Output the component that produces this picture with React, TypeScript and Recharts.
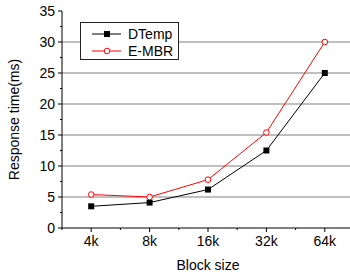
import { Legend, Line, LineChart, ReferenceLine, XAxis, YAxis } from 'recharts'

const categories = ['4k', '8k', '16k', '32k', '64k']
const dtemp = [3.5, 4.1, 6.2, 12.5, 25]
const embr = [5.4, 5.0, 7.8, 15.4, 30]
const xTicks = [-0.5, 0, 0.5, 1, 1.5, 2, 2.5, 3, 3.5, 4, 4.5]
const yTicks = [0, 2.5, 5, 7.5, 10, 12.5, 15, 17.5, 20, 22.5, 25, 27.5, 30, 32.5, 35]
const gridLines = [5, 10, 15, 20, 25, 30]

const data = categories.map((label, i) => ({ x: i, label, dtemp: dtemp[i], embr: embr[i] }))

const FONT = '"Liberation Sans", Arial, sans-serif'

function BottomTick(props: any) {
    const { x, y, payload } = props
    const v = payload.value as number
    const major = Number.isInteger(v)
    return (
        <g>
            <line x1={x} x2={x} y1={y} y2={y + (major ? 4 : 2)} stroke="#000" />
            {major && (
                <text x={x} y={y + 18} textAnchor="middle" fontSize={14} fill="#000">
                    {categories[v]}
                </text>
            )}
        </g>
    )
}

function TopTick(props: any) {
    const { x, y, payload } = props
    const major = Number.isInteger(payload.value)
    return <line x1={x} x2={x} y1={y} y2={y - (major ? 4 : 2)} stroke="#000" />
}

function LeftTick(props: any) {
    const { x, y, payload } = props
    const v = payload.value as number
    const major = v % 5 === 0
    return (
        <g>
            <line x1={x} x2={x - (major ? 4 : 2)} y1={y} y2={y} stroke="#000" />
            {major && (
                <text x={x - 7} y={y + 5} textAnchor="end" fontSize={14} fill="#000">
                    {v}
                </text>
            )}
        </g>
    )
}

function LegendBox() {
    return (
        <div style={{ width: 97, height: 36, border: '1px solid #222', background: '#fff' }}>
            <svg width={97} height={36} style={{ display: 'block' }}>
                <line x1={11} x2={40} y1={11} y2={11} stroke="#000" />
                <rect x={23} y={8} width={6} height={6} fill="#000" />
                <text x={47} y={16} fontSize={14} fill="#000" fontFamily={FONT}>DTemp</text>
                <line x1={11} x2={40} y1={28} y2={28} stroke="#ff0000" />
                <circle cx={26} cy={28} r={2.8} fill="#fff" stroke="#ff0000" />
                <text x={47} y={33} fontSize={14} fill="#000" fontFamily={FONT}>E-MBR</text>
            </svg>
        </div>
    )
}

function SquareDot(props: any) {
    const { cx, cy } = props
    return <rect x={cx - 3} y={cy - 3} width={6} height={6} fill="#000" />
}

export default function App() {
    return (
        <div style={{ position: 'absolute', left: 0, top: 0, width: 350, height: 276, overflow: 'hidden', fontFamily: FONT }}>
            <LineChart width={360} height={276} data={data} margin={{ top: 11, right: 6, left: 0, bottom: 0 }}>
                {gridLines.map((g) => (
                    <ReferenceLine key={g} y={g} stroke="#aaa" strokeWidth={1.5} ifOverflow="extendDomain" />
                ))}
                <XAxis
                    type="number"
                    dataKey="x"
                    domain={[-0.5, 4.5]}
                    ticks={xTicks}
                    interval={0}
                    height={48}
                    tickSize={0}
                    tickMargin={0}
                    tick={BottomTick}
                    stroke="#000"
                    allowDataOverflow
                    label={{ value: 'Block size', position: 'insideBottom', offset: 6, fontSize: 14, fill: '#000' }}
                />
                <XAxis
                    xAxisId="top"
                    orientation="top"
                    type="number"
                    dataKey="x"
                    domain={[-0.5, 4.5]}
                    ticks={xTicks}
                    interval={0}
                    height={0}
                    tickSize={0}
                    tickMargin={0}
                    tick={TopTick}
                    stroke="#000"
                    allowDataOverflow
                />
                <YAxis
                    domain={[0, 35]}
                    ticks={yTicks}
                    interval={0}
                    width={62}
                    tickSize={0}
                    tickMargin={0}
                    tick={LeftTick}
                    stroke="#000"
                    label={{ value: 'Response time(ms)', angle: -90, position: 'insideLeft', offset: 14, fontSize: 14, fill: '#000', style: { textAnchor: 'middle' } }}
                />
                <Legend
                    layout="vertical"
                    align="center"
                    verticalAlign="middle"
                    content={LegendBox}
                    wrapperStyle={{ position: 'absolute', left: 80, top: 22, width: 99, height: 38 }}
                />
                <Line
                    dataKey="dtemp"
                    stroke="#000"
                    strokeWidth={1}
                    dot={<SquareDot />}
                    isAnimationActive={false}
                />
                <Line
                    dataKey="embr"
                    stroke="#ff0000"
                    strokeWidth={1}
                    dot={{ r: 2.8, fill: '#fff', stroke: '#ff0000', strokeWidth: 1 }}
                    isAnimationActive={false}
                />
            </LineChart>
        </div>
    )
}
